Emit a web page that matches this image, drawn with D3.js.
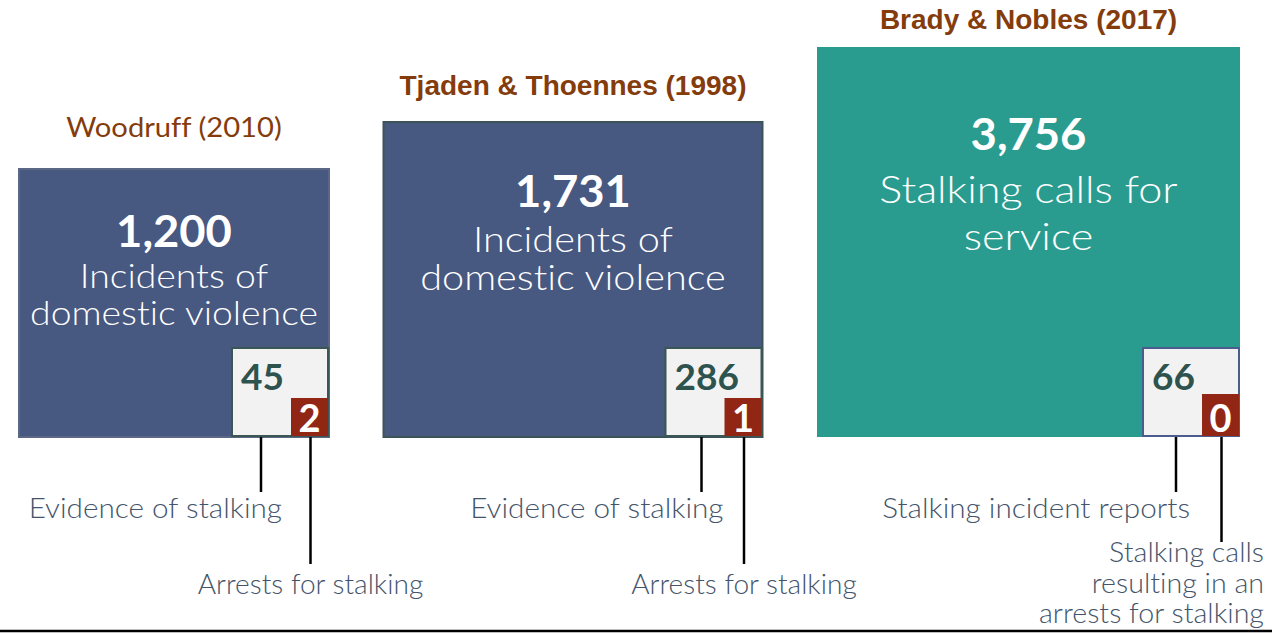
<!DOCTYPE html>
<html>
<head>
<meta charset="utf-8">
<script src="https://cdn.jsdelivr.net/npm/d3@7"></script>
<style>
  html, body { margin: 0; padding: 0; background: #fff; }
  svg { display: block; }
  text { font-variant-ligatures: none; font-feature-settings: "liga" 0, "dlig" 0, "clig" 0; }
</style>
</head>
<body>
<svg id="chart" width="1272" height="633"></svg>
<script>
// ---------------- data ----------------
const studies = ["Woodruff (2010)", "Tjaden & Thoennes (1998)", "Brady & Nobles (2017)"];
const totals = [1200, 1731, 3756];
const totalLabels = [
  ["Incidents of", "domestic violence"],
  ["Incidents of", "domestic violence"],
  ["Stalking calls for", "service"]
];
const evidence = [45, 286, 66];
const evidenceLabels = ["Evidence of stalking", "Evidence of stalking", "Stalking incident reports"];
const arrests = [2, 1, 0];
const arrestLabels = [
  ["Arrests for stalking"],
  ["Arrests for stalking"],
  ["Stalking calls", "resulting in an", "arrests for stalking"]
];

// ---------------- layout / style ----------------
const W = 1272, H = 633;
const baseY = 437, startX = 19, gap = 54.5;
const gothic = "Lato, 'Open Sans', sans-serif";
const arial = "'Liberation Sans', Arial, sans-serif";

const titleFonts = [
  {family: gothic, weight: 400, size: 27, widen: 1.08},
  {family: arial, weight: 700, size: 28, widen: 1},
  {family: arial, weight: 700, size: 28, widen: 1}
];
const boxFill = ["#475881", "#475881", "#2A9C8F"];
const boxStroke = ["#5a6885", "#3c5457", "none"];
const innerStroke = ["#3a5755", "#3a5755", "#4b5d8c"];
const textLayout = [
  {numDy: 78, subDy: [119, 156], subSize: 32.5, leadDx: 68, evDx: 21},
  {numDy: 85, subDy: [130, 168], subSize: 34.5, leadDx: 61, evDx: 22},
  {numDy: 103, subDy: [156, 203], subSize: 37.5, leadDx: 64, evDx: 14}
];

const widthScale = d3.scaleLinear().domain(totals).range([310, 379, 423]);
const heightScale = d3.scaleLinear().domain(totals).range([268, 315, 390]);
const fmt = d3.format(",");

const svg = d3.select("#chart");

function stretch(sel, f) {
  if (f === 1) return;
  sel.each(function() {
    const len = this.getComputedTextLength();
    d3.select(this).attr("textLength", len * f).attr("lengthAdjust", "spacingAndGlyphs");
  });
}

// compute box positions
let xCursor = startX;
const boxes = totals.map((t, i) => {
  const w = widthScale(t), h = heightScale(t);
  const b = {i, x: xCursor, y: baseY - h, w, h, right: xCursor + w};
  xCursor += w + gap;
  return b;
});

boxes.forEach(b => {
  const i = b.i;
  const g = svg.append("g");

  // title
  const tf = titleFonts[i];
  const titleY = b.y - 32 + (169 - b.y) * 0.115;
  const tt = g.append("text")
    .attr("x", b.x + b.w / 2).attr("y", titleY)
    .attr("text-anchor", "middle")
    .attr("font-family", tf.family).attr("font-weight", tf.weight)
    .attr("font-size", tf.size).attr("fill", "#843C0C")
    .text(studies[i]);
  stretch(tt, tf.widen);

  // main box
  g.append("rect")
    .attr("x", b.x).attr("y", b.y).attr("width", b.w).attr("height", b.h)
    .attr("fill", boxFill[i])
    .attr("stroke", boxStroke[i]).attr("stroke-width", 2);

  const L = textLayout[i];
  const cx = b.x + b.w / 2;
  stretch(g.append("text")
    .attr("x", cx).attr("y", b.y + L.numDy)
    .attr("text-anchor", "middle")
    .attr("font-family", gothic).attr("font-weight", 700).attr("font-size", 44)
    .attr("fill", "#fff")
    .text(fmt(totals[i])), 1.03);
  totalLabels[i].forEach((s, k) => {
    stretch(g.append("text")
      .attr("x", cx).attr("y", b.y + L.subDy[k])
      .attr("text-anchor", "middle")
      .attr("font-family", gothic).attr("font-weight", 300).attr("font-size", L.subSize)
      .attr("fill", "#fff")
      .text(s), 1.15);
  });

  // inner box (evidence)
  const innerW = 98, innerH = 90;
  g.append("rect")
    .attr("x", b.right - innerW + 1).attr("y", baseY - innerH + 1)
    .attr("width", innerW - 2).attr("height", innerH - 2)
    .attr("fill", "#F2F2F2")
    .attr("stroke", innerStroke[i]).attr("stroke-width", 2);
  g.append("text")
    .attr("x", b.right - 88).attr("y", baseY - 47)
    .attr("font-family", gothic).attr("font-weight", 700).attr("font-size", 37)
    .attr("fill", "#2E524E")
    .text(evidence[i]);

  // red box (arrests)
  const redW = 37, redH = i === 2 ? 43 : 39;
  g.append("rect")
    .attr("x", b.right - redW - 1).attr("y", baseY - redH)
    .attr("width", redW).attr("height", redH - 1)
    .attr("fill", "#922615");
  const redCx = b.right - 1 - redW / 2;
  g.append("text")
    .attr("x", redCx).attr("y", baseY - 5)
    .attr("text-anchor", "middle")
    .attr("font-family", gothic).attr("font-weight", 700).attr("font-size", 38)
    .attr("fill", "#fff")
    .text(arrests[i]);

  // leader lines
  const line1X = b.right - L.leadDx;
  const line2X = redCx + 1;
  g.append("line")
    .attr("x1", line1X).attr("x2", line1X).attr("y1", baseY).attr("y2", 492)
    .attr("stroke", "#000").attr("stroke-width", 2.5);

  stretch(g.append("text")
    .attr("x", line1X + L.evDx).attr("y", 518)
    .attr("text-anchor", "end")
    .attr("font-family", gothic).attr("font-weight", 300).attr("font-size", 27)
    .attr("fill", "#44546A")
    .text(evidenceLabels[i]), 1.1);

  const lines = arrestLabels[i];
  if (lines.length === 1) {
    g.append("line")
      .attr("x1", line2X).attr("x2", line2X).attr("y1", baseY).attr("y2", 564)
      .attr("stroke", "#000").attr("stroke-width", 2.5);
    stretch(g.append("text")
      .attr("x", line2X).attr("y", 594)
      .attr("text-anchor", "middle")
      .attr("font-family", gothic).attr("font-weight", 300).attr("font-size", 27)
      .attr("fill", "#44546A")
      .text(lines[0]), 1.04);
  } else {
    g.append("line")
      .attr("x1", line2X).attr("x2", line2X).attr("y1", baseY).attr("y2", 542)
      .attr("stroke", "#000").attr("stroke-width", 2.5);
    lines.forEach((s, k) => {
      stretch(g.append("text")
        .attr("x", W - 8).attr("y", 562 + k * 30.5)
        .attr("text-anchor", "end")
        .attr("font-family", gothic).attr("font-weight", 300).attr("font-size", 27)
        .attr("fill", "#44546A")
        .text(s), 1.06);
    });
  }
});

// bottom rule
svg.append("line")
  .attr("x1", 0).attr("x2", W).attr("y1", 631).attr("y2", 631)
  .attr("stroke", "#000").attr("stroke-width", 2.5);
</script>
</body>
</html>
